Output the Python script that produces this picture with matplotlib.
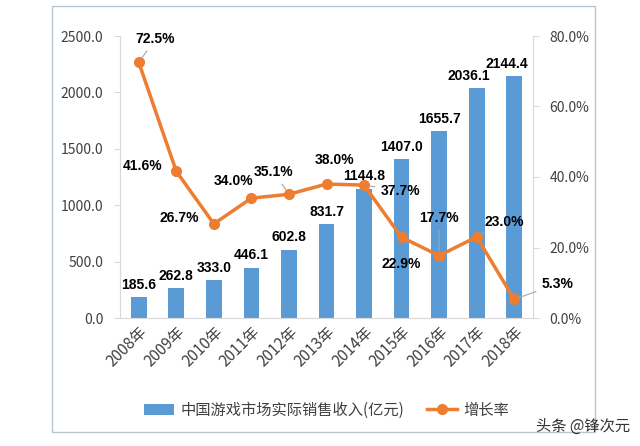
import matplotlib
matplotlib.use("Agg")
import matplotlib.pyplot as plt
from matplotlib.patches import FancyBboxPatch
from matplotlib.ticker import FuncFormatter

plt.rcParams["font.family"] = ["Noto Sans CJK SC", "DejaVu Sans"]

years = ["2008年", "2009年", "2010年", "2011年", "2012年", "2013年",
         "2014年", "2015年", "2016年", "2017年", "2018年"]
revenue = [185.6, 262.8, 333.0, 446.1, 602.8, 831.7, 1144.8, 1407.0, 1655.7, 2036.1, 2144.4]
growth = [72.5, 41.6, 26.7, 34.0, 35.1, 38.0, 37.7, 22.9, 17.7, 23.0, 5.3]

# label offsets in points (dx, dy) and whether a leader line is drawn
growth_offsets = [(12, 17, True), (-24, 4, False), (-25, 4, False), (-13, 12, False),
                  (-11, 16, True), (6, 17, False), (26, -4, True), (0, -19, False),
                  (0, 27, True), (20, 11, True), (31, 11, True)]
bar_offsets = [(0, 0), (0, 0), (0, 0), (0, 0), (0, 0), (0, 0),
               (0, 0), (0, 0), (0, 0), (-6, 0), (-5, 0)]

BAR = "#5B9BD5"
LINE = "#ED7D31"
GRID = "#D9D9D9"
TXT = "#404040"
LABEL_FONT = ["Liberation Sans", "DejaVu Sans"]

fig = plt.figure(figsize=(6.4, 4.46), dpi=100)
ax = fig.add_axes([120 / 640, 1 - 318 / 446, 413 / 640, 282 / 446])
ax2 = ax.twinx()

x = list(range(len(years)))
ax.bar(x, revenue, width=0.42, color=BAR, zorder=2, label="中国游戏市场实际销售收入(亿元)")
ax2.plot(x, growth, color=LINE, lw=2.5, marker="o", ms=7, zorder=3, label="增长率")

ax.set_xlim(-0.5, len(years) - 0.5)
ax.set_ylim(0, 2500)
ax2.set_ylim(0, 80)
ax.set_yticks([0, 500, 1000, 1500, 2000, 2500])
ax2.set_yticks([0, 20, 40, 60, 80])
ax.yaxis.set_major_formatter(FuncFormatter(lambda v, p: f"{v:.1f}"))
ax2.yaxis.set_major_formatter(FuncFormatter(lambda v, p: f"{v:.1f}%"))

ax.set_xticks(x)
ax.set_xticklabels(years, rotation=45, ha="right", rotation_mode="anchor")

for a in (ax, ax2):
    a.spines["top"].set_visible(False)
    a.tick_params(colors=TXT, labelsize=11, length=4, width=0.8)
    a.tick_params(axis="y", color=GRID, pad=8, labelsize=10)
ax.spines["left"].set_color(GRID)
ax.spines["bottom"].set_color(GRID)
ax.spines["right"].set_visible(False)
ax2.spines["left"].set_visible(False)
ax2.spines["bottom"].set_visible(False)
ax2.spines["right"].set_color(GRID)
ax.tick_params(axis="x", length=0, pad=4)
ax.set_zorder(ax2.get_zorder() - 1)
ax.patch.set_visible(False)
ax2.patch.set_visible(False)

for i, v in enumerate(revenue):
    dx, dy = bar_offsets[i]
    ax.annotate(f"{v:.1f}", (i, v), xytext=(dx, 4 + dy), textcoords="offset points",
                ha="center", va="bottom", fontsize=10, fontweight="bold", color="black",
                family=LABEL_FONT)

for i, v in enumerate(growth):
    dx, dy, leader = growth_offsets[i]
    ax2.annotate(f"{v:.1f}%", (i, v), xytext=(dx, dy), textcoords="offset points",
                 ha="center", va="center", fontsize=10, fontweight="bold", color="black",
                 family=LABEL_FONT,
                 arrowprops=dict(arrowstyle="-", color="#A6A6A6", lw=0.8, shrinkA=2, shrinkB=4)
                 if leader else None, zorder=4)

h1, l1 = ax.get_legend_handles_labels()
h2, l2 = ax2.get_legend_handles_labels()
fig.legend(h1 + h2, l1 + l2, loc="center", bbox_to_anchor=(0.51, 1 - 410 / 446), ncol=2,
           frameon=False, fontsize=11, labelcolor=TXT, handlelength=2.0, columnspacing=1.5,
           handletextpad=0.4)

border = FancyBboxPatch((52 / 640, 1 - 432 / 446), 543 / 640, 426 / 446,
                        boxstyle="square,pad=0", transform=fig.transFigure,
                        fill=False, edgecolor="#B8C4CE", lw=1.0)
fig.patches.append(border)

fig.text(583 / 640, 1 - 426 / 446, "头条 @锋次元", ha="center", va="center",
         fontsize=11, color="#333333")

fig.savefig("out.png", dpi=100)
